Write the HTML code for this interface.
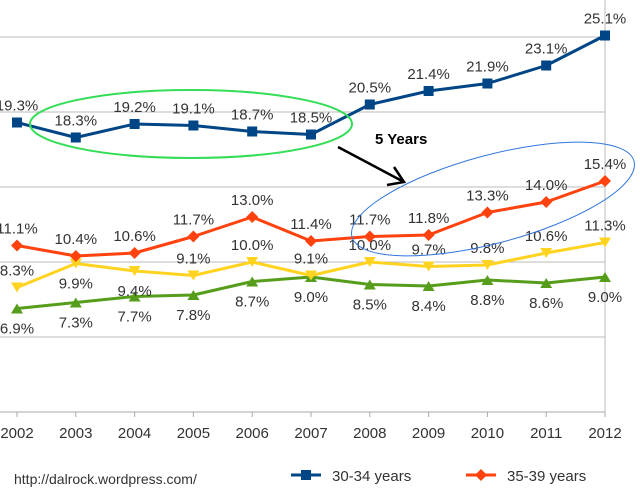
<!DOCTYPE html>
<html><head><meta charset="utf-8"><style>
body{margin:0;background:#fff;}
svg{display:block;font-family:"Liberation Sans",sans-serif;}
</style></head><body>
<svg id="chart" width="640" height="500">
<g id="grid"></g>
<g id="series"></g>
<g id="labels"></g>
<g id="xaxis"></g>
<ellipse cx="191" cy="124" rx="161" ry="34" fill="none" stroke="#33dd55" stroke-width="2"/>
<ellipse cx="493" cy="199" rx="146" ry="44" transform="rotate(-15 493 199)" fill="none" stroke="#3377dd" stroke-width="1"/>
<g stroke="#000" stroke-width="2.5" fill="none">
<line x1="338" y1="147" x2="404" y2="182"/>
<polyline points="394,167 404,182 387,185"/>
</g>
<text x="375" y="144" font-size="15" font-weight="bold" fill="#000">5 Years</text>
<text x="14" y="484" font-size="14" fill="#333">http://dalrock.wordpress.com/</text>
<g>
<line x1="291" y1="475" x2="321" y2="475" stroke="#004586" stroke-width="3"/>
<rect x="301" y="470" width="10" height="10" fill="#004586"/>
<text x="332" y="481" font-size="15" fill="#333">30-34 years</text>
</g>
<g>
<line x1="466" y1="475" x2="496" y2="475" stroke="#ff420e" stroke-width="3"/>
<polygon points="481,469 487,475 481,481 475,475" fill="#ff420e"/>
<text x="507" y="481" font-size="15" fill="#333">35-39 years</text>
</g>
</svg>
<script>
const years=[2002,2003,2004,2005,2006,2007,2008,2009,2010,2011,2012];
const s3034=[19.3,18.3,19.2,19.1,18.7,18.5,20.5,21.4,21.9,23.1,25.1];
const s3539=[11.1,10.4,10.6,11.7,13.0,11.4,11.7,11.8,13.3,14.0,15.4];
const sYellow=[8.3,9.9,9.4,9.1,10.0,9.1,10.0,9.7,9.8,10.6,11.3];
const sGreen=[6.9,7.3,7.7,7.8,8.7,9.0,8.5,8.4,8.8,8.6,9.0];
const gridVals=[0,5,10,15,20,25];
const yellowBelow=[false,true,true,false,false,false,false,false,false,false,false];

const NS="http://www.w3.org/2000/svg";
const X=i=>17+i*58.8;
const Y=v=>412-15*v;
function mk(tag,attrs,parent){const e=document.createElementNS(NS,tag);for(const k in attrs)e.setAttribute(k,attrs[k]);parent.appendChild(e);return e;}
const grid=document.getElementById('grid'),ser=document.getElementById('series'),lab=document.getElementById('labels'),xa=document.getElementById('xaxis');
gridVals.forEach(v=>{
 const l=mk('line',{x1:0,x2:X(10),y1:Y(v),y2:Y(v),stroke:v===0?'#aaa':'#bbb','stroke-width':1},grid);
 
 
});
const ra=mk('line',{x1:X(10),x2:X(10),y1:0,y2:Y(0),stroke:'#bbb'},grid);


years.forEach((yr,i)=>{
 mk('line',{x1:X(i),x2:X(i),y1:Y(0),y2:Y(0)+5,stroke:'#aaa'},xa);
 const t=mk('text',{x:X(i),y:438,'text-anchor':'middle','font-size':15,fill:'#333'},xa);
 t.textContent=yr;
 
 
});
function series(vals,color,name,marker,below){
 const g=mk('g',{},ser);
 
 
 mk('polyline',{points:vals.map((v,i)=>X(i)+','+Y(v)).join(' '),fill:'none',stroke:color,'stroke-width':3,'stroke-linejoin':'round'},g);
 vals.forEach((v,i)=>{
  const x=X(i),y=Y(v);let m;
  if(marker==='sq')m=mk('rect',{x:x-5,y:y-5,width:10,height:10,fill:color},g);
  else if(marker==='dia')m=mk('polygon',{points:`${x},${y-6} ${x+6},${y} ${x},${y+6} ${x-6},${y}`,fill:color},g);
  else if(marker==='down')m=mk('polygon',{points:`${x-6},${y-5} ${x+6},${y-5} ${x},${y+5}`,fill:color},g);
  else m=mk('polygon',{points:`${x-6},${y+5} ${x+6},${y+5} ${x},${y-5}`,fill:color},g);
  
  
  const b=below(i);
  const t=mk('text',{x:x,y:b?y+25:y-12,'text-anchor':'middle','font-size':15,fill:'#333'},lab);
  t.textContent=v.toFixed(1)+'%';
  
  
 });
}
series(sGreen,'#579d1c','green','up',()=>true);
series(sYellow,'#ffd320','yellow','down',i=>yellowBelow[i]);
series(s3539,'#ff420e','35-39','dia',()=>false);
series(s3034,'#004586','30-34','sq',()=>false);
</script>
</body></html>
